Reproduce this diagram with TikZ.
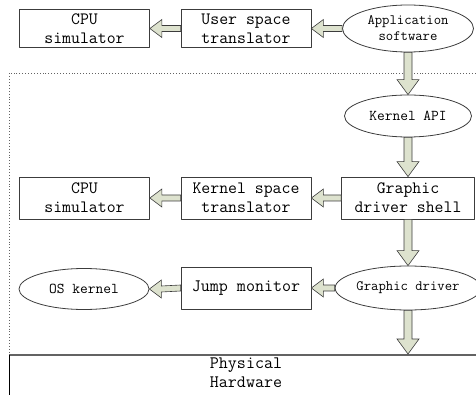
\documentclass[tikz,border=0pt]{standalone}
\usepackage{fontspec}
\setmainfont{Latin Modern Mono}
\usetikzlibrary{calc,shapes.geometric}
\definecolor{arrowfill}{RGB}{221,226,206}
\definecolor{edgegray}{RGB}{60,60,60}
\begin{document}
\begin{tikzpicture}[x=1pt, y=-1pt, line join=round,
		blk/.style={draw=edgegray, line width=0.8pt, minimum width=130pt, minimum height=38pt, inner sep=0pt, align=center, font=\fontsize{17.3}{19}\selectfont},
		oval/.style={draw=edgegray, ellipse, line width=0.8pt, minimum width=131pt, minimum height=44pt, inner sep=0pt, align=center, font=\fontsize{14.3}{16}\selectfont},
		leftarrow/.style={draw=edgegray, fill=arrowfill, line width=0.6pt, line join=miter,
			to path={-- ($(\tikztostart)+(0,-3)$) -- ($(\tikztotarget)+(12,-3)$) -- ($(\tikztotarget)+(12,-9)$) -- (\tikztotarget)
				-- ($(\tikztotarget)+(12,9)$) -- ($(\tikztotarget)+(12,3)$) -- ($(\tikztostart)+(0,3)$) -- cycle}},
		downarrow/.style={draw=edgegray, fill=arrowfill, line width=0.6pt, line join=miter,
			to path={-- ($(\tikztostart)+(4,0)$) -- ($(\tikztotarget)+(4,-15)$) -- ($(\tikztotarget)+(11,-15)$) -- (\tikztotarget)
				-- ($(\tikztotarget)+(-11,-15)$) -- ($(\tikztotarget)+(-4,-15)$) -- ($(\tikztostart)+(-4,0)$) -- cycle}}]
	\useasboundingbox (0,0) rectangle (476,395);
	\clip (0,0) rectangle (476,395);
	% frames
	\draw[edgegray!80, line width=0.9pt, dotted] (490,73) -- (9,73) -- (9,355);
	\draw[edgegray!80, line width=1.2pt] (490,355) -- (9,355);
	\draw[black, line width=0.8pt] (9,355) -- (9,400);
	% user space
	\node[blk] (cpuA) at (84.5,28.5) {CPU\\simulator};
	\node[blk] (userTr) at (246,28.5) {User space\\translator};
	\node[oval, minimum height=47pt] (appSw) at (408,28.5) {Application\\software};
	% kernel space
	\node[oval, minimum height=42pt, minimum width=127pt, font=\fontsize{15}{17}\selectfont] (kernApi) at (408,116) {Kernel API};
	\node[blk, minimum width=133pt, minimum height=42pt] (drvShell) at (408,198) {Graphic\\driver shell};
	\node[blk, minimum height=42pt] (kernTr) at (246,198) {Kernel space\\translator};
	\node[blk, minimum height=42pt] (cpuB) at (84.5,198) {CPU\\simulator};
	\node[oval] (gfxDrv) at (408,288) {Graphic driver};
	\node[blk, minimum height=42pt, font=\fontsize{17.5}{19}\selectfont] (jumpMon) at (246,288) {Jump monitor};
	\node[oval, minimum width=130pt, minimum height=41pt, font=\fontsize{15}{16}\selectfont] (osKern) at (84,289) {OS kernel};
	% hardware
	\coordinate (hwTop) at (408,354);
	\node[align=center, font=\fontsize{17.5}{19}\selectfont] (hwText) at (246,373) {Physical\\Hardware};
	% arrows
	\path[leftarrow] (appSw.west) to (userTr.east);
	\path[leftarrow] (userTr.west) to (cpuA.east);
	\path[downarrow] (appSw.south) to (kernApi.north);
	\path[downarrow] (kernApi.south) to (drvShell.north);
	\path[leftarrow] (drvShell.west) to (kernTr.east);
	\path[leftarrow] (kernTr.west) to (cpuB.east);
	\path[downarrow] (drvShell.south) to (gfxDrv.north);
	\path[leftarrow] (gfxDrv.west) to (jumpMon.east);
	\path[leftarrow] (jumpMon.west) to (osKern.east);
	\path[downarrow] (gfxDrv.south) to (hwTop);
\end{tikzpicture}
\end{document}
